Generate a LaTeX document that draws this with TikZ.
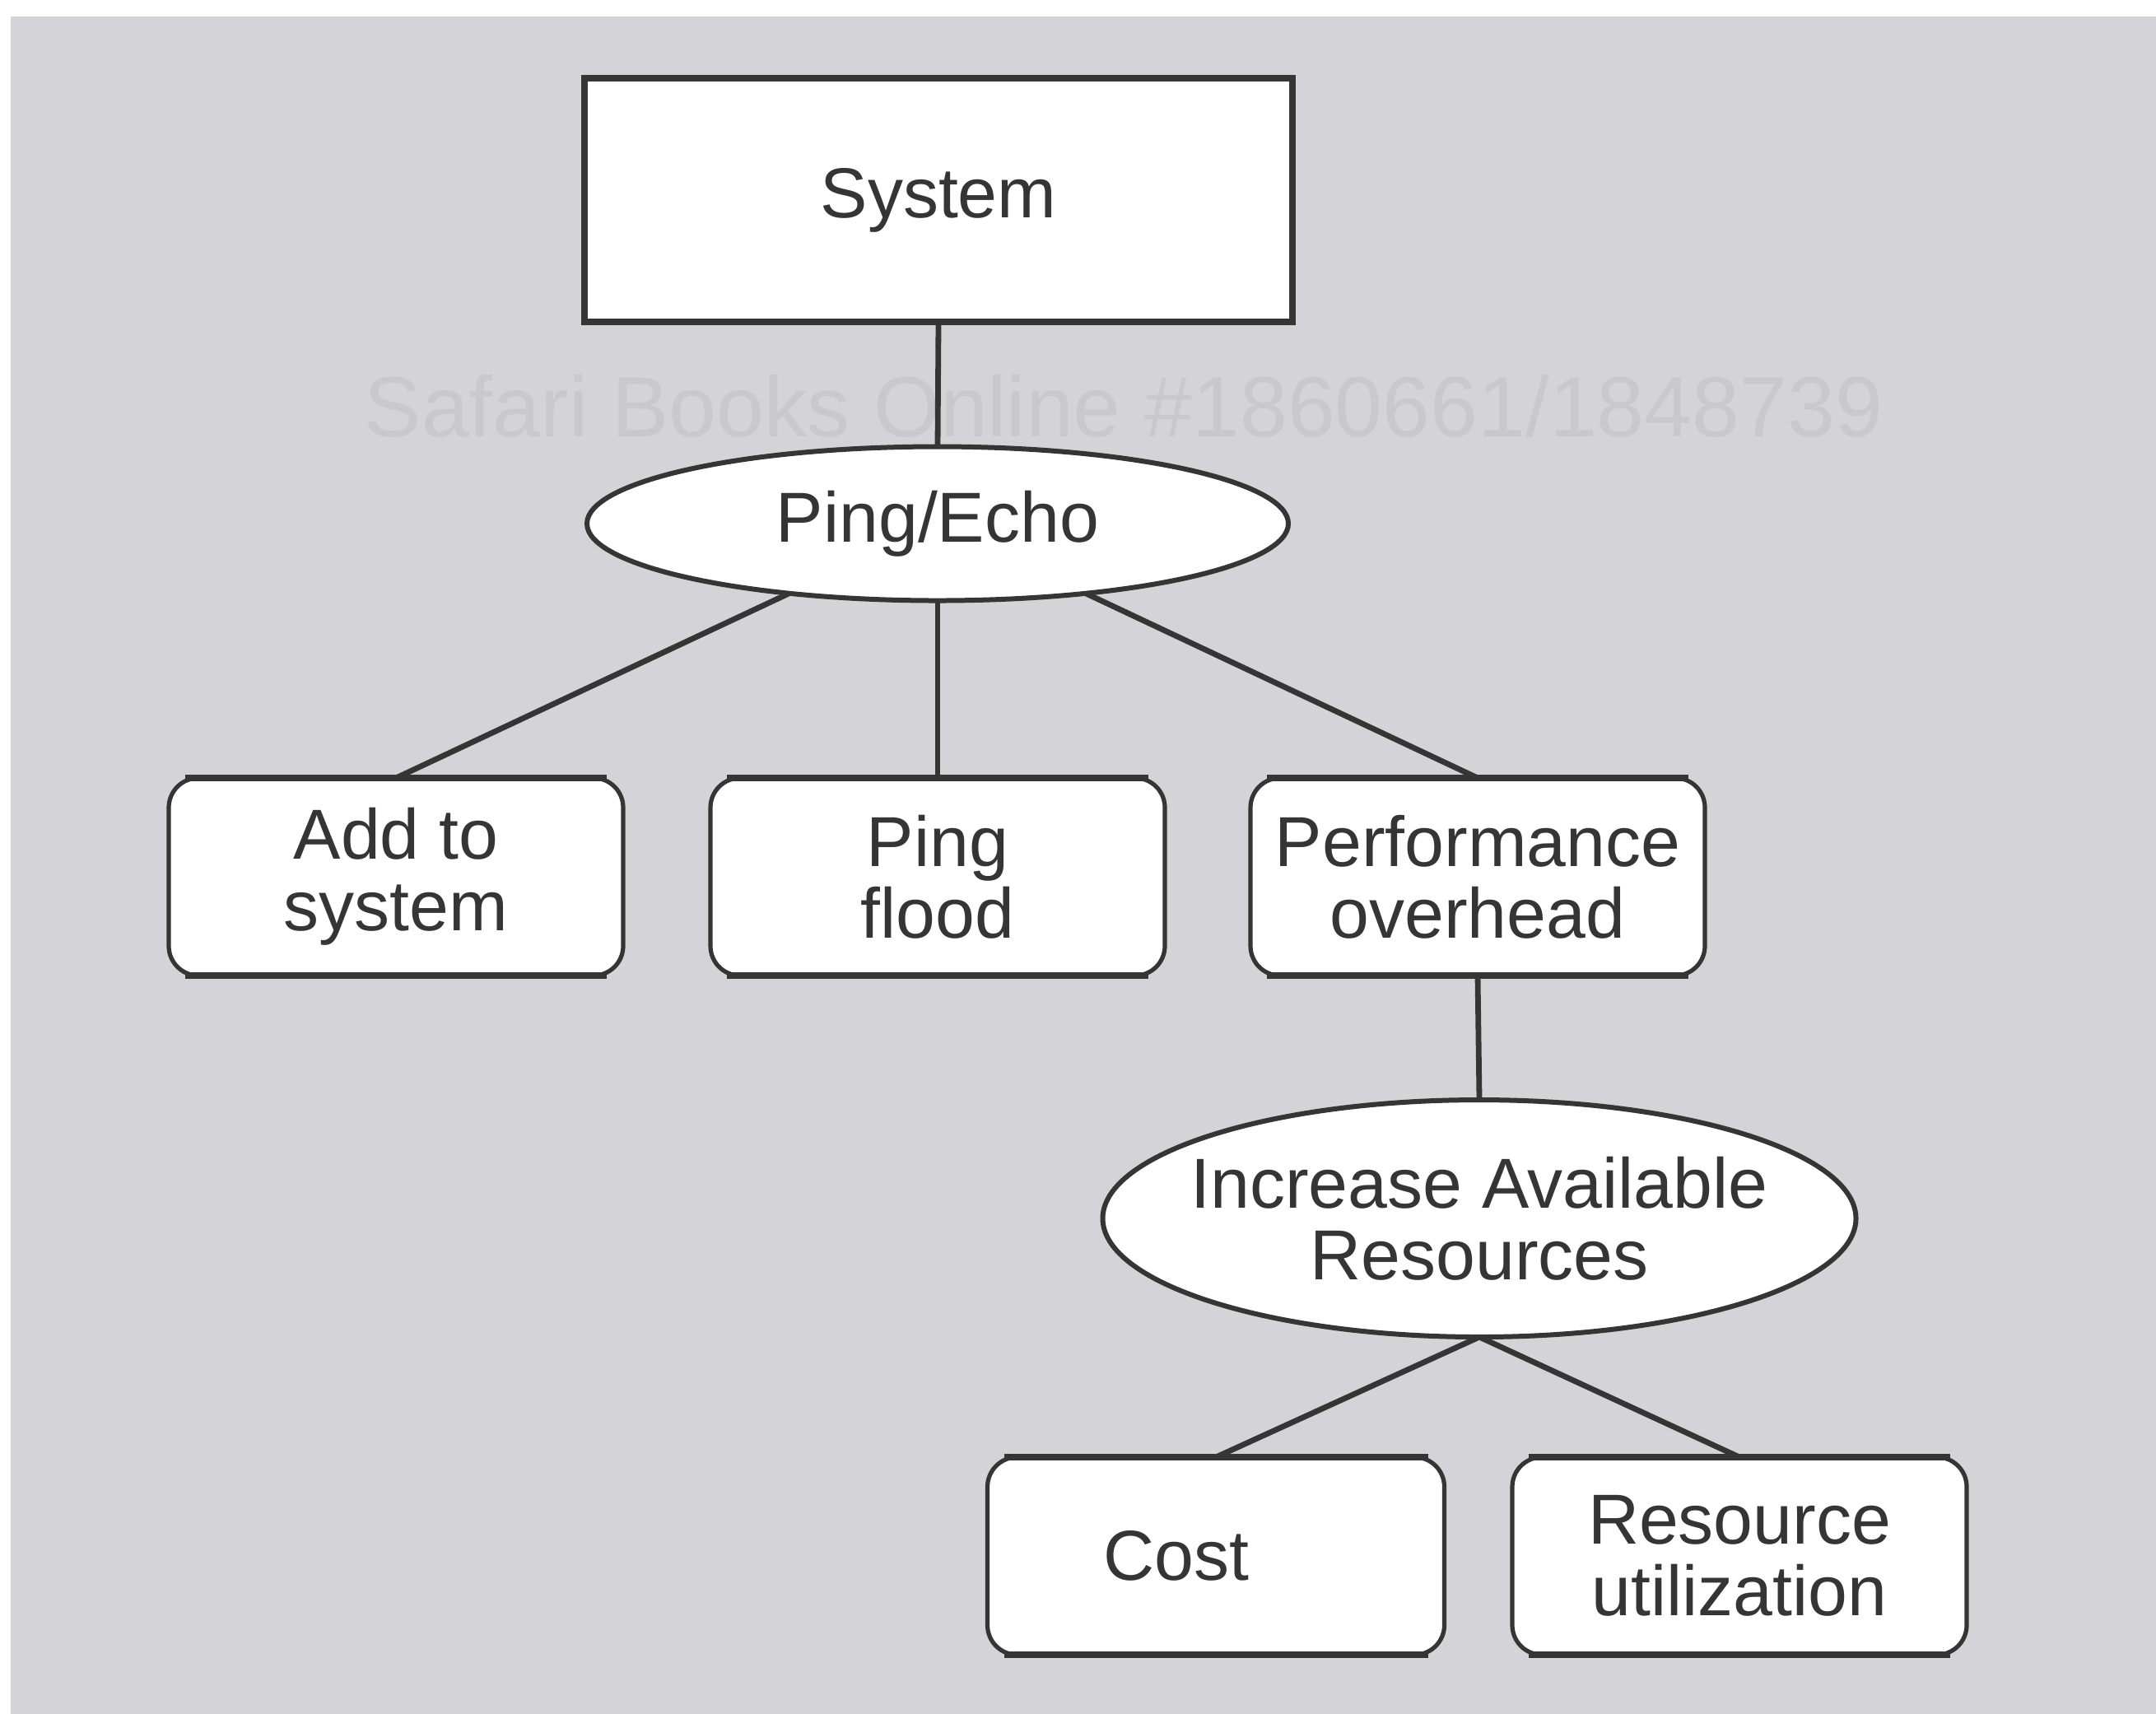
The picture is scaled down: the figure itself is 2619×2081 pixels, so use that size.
\documentclass[tikz,border=0pt]{standalone}
\usepackage{fontspec}
\setmainfont{Liberation Sans}
\usetikzlibrary{shapes.geometric}
\definecolor{bg}{HTML}{D3D3D8}
\definecolor{ink}{HTML}{353535}
\definecolor{wm}{HTML}{C8C8CD}
\begin{document}
\begin{tikzpicture}[x=0.25pt,y=-0.25pt,
  every node/.style={inner sep=0pt, outer sep=0pt},
  lbl/.style={font=\fontsize{21.5}{21.75}\selectfont, text=ink, align=center},
  sysbox/.style={lbl, draw=ink, line width=1.8pt, fill=white, minimum width=215pt, minimum height=74pt},
  ell/.style={lbl, ellipse, draw=ink, line width=1.5pt, fill=white},
  rbox/.style={lbl, draw=ink, line width=1.3pt, fill=white, rounded corners=9pt, minimum width=138pt, minimum height=60pt},
  conn/.style={draw=ink, line width=1.7pt},
  bar/.style={draw=ink, line width=2pt}]
\useasboundingbox (0,0) rectangle (2619,2081);
% background
\fill[white] (-10,-10) rectangle (2630,2090);
\fill[bg] (13,20) rectangle (2630,2090);
% watermark
\node[font=\fontsize{26}{26}\selectfont, text=wm] (wmark) at (1365,493) {Safari Books Online \#1860661/1848739};
% nodes
\node[sysbox] (sys) at (1140,243) {System};
\node[ell, minimum width=213pt, minimum height=46.75pt] (ping) at (1139,636) {Ping/Echo};
\node[rbox] (add) at (481,1065) {Add to\\system};
\node[rbox] (flood) at (1139,1065) {Ping\\flood};
\node[rbox] (perf) at (1795,1065) {Performance\\overhead};
\node[ell, minimum width=228.75pt, minimum height=72pt] (inc) at (1797,1480) {};
\node[lbl] (inctext) at (inc.center) {Increase Available\\Resources};
\node[rbox, minimum width=138.75pt] (cost) at (1477,1890) {};
\node[lbl] (costtext) at ([xshift=-12pt]cost.center) {Cost};
\node[rbox] (res) at (2113,1890) {Resource\\utilization};
% bars on rounded boxes
\foreach \n in {add,flood,perf,cost,res}{
  \draw[bar] ([xshift=5pt]\n.north west) -- ([xshift=-5pt]\n.north east);
  \draw[bar] ([xshift=5pt]\n.south west) -- ([xshift=-5pt]\n.south east);
}
% connectors
\draw[conn] (sys.south) -- (ping.north);
\draw[conn] (ping) -- (add.north);
\draw[conn] (ping.south) -- (flood.north);
\draw[conn] (ping) -- (perf.north);
\draw[conn] (perf.south) -- (inc.north);
\draw[conn] (inc.south) -- (cost.north);
\draw[conn] (inc.south) -- (res.north);
\end{tikzpicture}
\end{document}
